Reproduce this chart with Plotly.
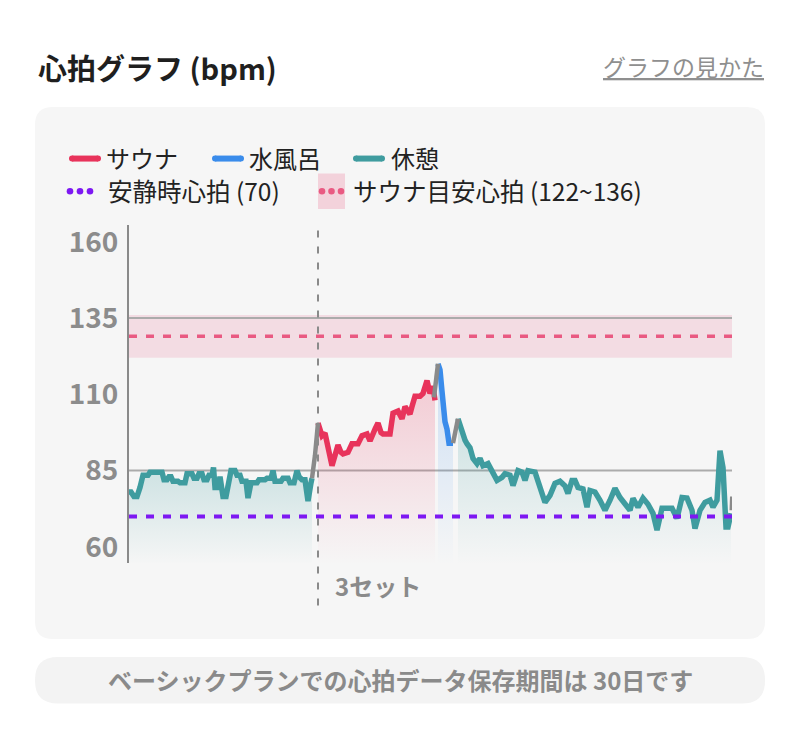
import plotly.graph_objects as go

# ---------------- data (time in minutes, heart rate in bpm) ----------------
rest1_t = [0.0, 0.2, 0.5, 0.8, 1.1, 1.4, 1.9, 2.1, 3.3, 3.5, 3.8, 4.0, 4.2, 4.4, 4.9, 5.1, 5.6, 5.8, 6.3, 6.5,
           6.8, 7.0, 7.3, 7.5, 7.8, 8.0, 8.3, 8.45, 8.6, 8.9, 9.1, 9.4, 9.7, 10.0, 10.2, 10.6, 10.8, 11.1, 11.3,
           11.7, 11.9, 12.2, 12.8, 13.0, 13.6, 13.8, 14.2, 14.4, 14.6, 15.2, 15.4, 15.9, 16.1, 16.5, 16.8, 17.0,
           17.3, 17.6, 17.9, 18.2, 18.3]
rest1_bpm = [78, 78, 76.5, 76.5, 79.5, 83.5, 83.5, 84.5, 84.5, 82, 82, 83, 83, 81.5, 81.5, 81, 81, 84, 84, 82.5,
             82.5, 84, 84, 82, 82, 83.5, 83.5, 86, 79.5, 79.5, 83, 76.5, 76.5, 82, 85, 85, 83.5, 83.5, 81.5,
             81.5, 76, 81, 81, 82, 82, 82.5, 82.5, 85, 81.5, 81.5, 82.5, 82.5, 81, 81, 85, 83, 82, 82, 75, 81, 82.5]

trans1_t = [18.3, 18.6, 18.9]
trans1_bpm = [82.5, 90, 100.6]

sauna_t = [18.9, 19.1, 19.3, 19.6, 19.9, 20.3, 20.6, 20.9, 21.2, 21.4, 21.9, 22.3, 22.9, 23.3, 23.8, 24.1, 24.6,
           24.9, 25.2, 25.4, 26.1, 26.4, 26.9, 27.3, 27.6, 28.1, 28.3, 28.6, 29.1, 29.4, 29.8, 30.1, 30.4, 30.6]
sauna_bpm = [100.6, 99, 96.4, 97.3, 93, 86.6, 90, 93.4, 91, 90.5, 91, 93.8, 93.8, 96.4, 97, 94.7, 98.6,
             100.6, 97.5, 97, 97, 103.8, 104.5, 102, 106, 103.5, 106, 109.4, 109.4, 110.3, 114.5, 110.3, 112.6, 108]

trans2_t = [30.5, 30.7, 30.9]
trans2_bpm = [109, 114, 120]

cold_t = [30.9, 31.1, 31.3, 31.4, 31.6, 31.8, 32.0, 32.4]
cold_bpm = [120, 118, 111, 106, 101, 98.6, 94, 94]

trans3_t = [32.4, 32.6, 32.9]
trans3_bpm = [94, 98, 102]

rest2_t = [32.9, 33.3, 33.6, 33.8, 34.1, 34.4, 34.8, 35.1, 35.4, 35.9, 36.3, 36.8, 37.3, 37.6, 38.1, 38.4, 38.9,
           39.3, 39.6, 39.9, 40.6, 41.1, 41.6, 42.1, 42.6, 43.1, 43.6, 43.9, 44.3, 44.6, 44.9, 45.4, 45.8, 46.1,
           46.6, 47.1, 47.6, 48.1, 48.6, 49.1, 49.6, 50.1, 50.4, 50.9, 51.4, 51.9, 52.4, 52.8, 53.3, 53.8, 54.3,
           54.8, 55.3, 55.8, 56.3, 56.6, 57.1, 57.6, 58.1, 58.4, 58.8, 59.1, 59.4, 59.7, 59.9, 60.2]
rest2_bpm = [102, 97, 95, 93.8, 92.5, 89, 87.3, 89, 86.6, 87.3, 85, 81.8, 82.8, 84, 83.5, 80.1, 85,
             84.5, 81.8, 85, 84.5, 79, 74.6, 76.9, 80.8, 81.5, 80, 77.5, 81.8, 81.8, 79.5, 79, 73, 78.5,
             78, 75.3, 72, 75.3, 79.2, 76.2, 74.3, 72, 75.9, 73, 76, 74, 71, 65.5, 72.7, 72.7, 72.7,
             69.4, 76.2, 76, 72, 66, 72, 74.6, 75.3, 73, 75.3, 91.5, 86, 66.5, 66.5, 71]

tail_t = [60.2, 60.25]
tail_bpm = [72, 76.5]

set_marker_t = 18.9
set_label = "3セット"
resting_hr = 70
target_low, target_high = 122, 136
target_mid = 129
guide_lines = [85, 135]
y_ticks = [60, 85, 110, 135, 160]

# ---------------- styling ----------------
W, H = 800, 756
FONT = "Noto Sans CJK JP"
RED = "#e8335b"
BLUE = "#3a8ceb"
TEAL = "#3f9c9f"
GRAY = "#8a8a8a"
PURPLE = "#7d18f2"
PINK = "#e95a82"


def X(px):
    return px / W


def Y(py):
    return 1 - py / H


def rrect(x0, y0, x1, y1, r):
    return (f"M{X(x0 + r)},{Y(y0)} L{X(x1 - r)},{Y(y0)} Q{X(x1)},{Y(y0)} {X(x1)},{Y(y0 + r)} "
            f"L{X(x1)},{Y(y1 - r)} Q{X(x1)},{Y(y1)} {X(x1 - r)},{Y(y1)} "
            f"L{X(x0 + r)},{Y(y1)} Q{X(x0)},{Y(y1)} {X(x0)},{Y(y1 - r)} "
            f"L{X(x0)},{Y(y0 + r)} Q{X(x0)},{Y(y0)} {X(x0 + r)},{Y(y0)} Z")


fig = go.Figure()


def seg(t, v, color, fill_rgb=None, width=5.5):
    kw = {}
    if fill_rgb:
        kw = dict(fill="tozeroy",
                  fillgradient=dict(type="vertical", start=55, stop=max(v),
                                    colorscale=[[0, f"rgba({fill_rgb},0.0)"], [1, f"rgba({fill_rgb},0.22)"]]))
    fig.add_trace(go.Scatter(x=t, y=v, mode="lines", line=dict(color=color, width=width),
                             hoverinfo="skip", showlegend=False, **kw))


seg(rest1_t, rest1_bpm, TEAL, "63,156,159")
seg(sauna_t, sauna_bpm, RED, "232,51,91")
seg(cold_t, cold_bpm, BLUE, "58,140,235")
seg(rest2_t, rest2_bpm, TEAL, "63,156,159")
seg(trans1_t, trans1_bpm, GRAY, None, 4.5)
seg(trans2_t, trans2_bpm, GRAY, None, 4.5)
seg(trans3_t, trans3_bpm, GRAY, None, 4.5)
seg(tail_t, tail_bpm, GRAY, None, 3)

shapes = []
# card backgrounds
shapes.append(dict(type="path", xref="paper", yref="paper", path=rrect(35, 103, 765, 640, 18),
                   fillcolor="#f6f6f6", line=dict(width=0), layer="below"))
shapes.append(dict(type="path", xref="paper", yref="paper", path=rrect(35, 658, 765, 705, 23),
                   fillcolor="#f3f3f3", line=dict(width=0), layer="below"))
# target band
shapes.append(dict(type="rect", xref="x domain", yref="y", x0=0, x1=1, y0=target_low, y1=target_high,
                   fillcolor="rgba(233,90,130,0.16)", line=dict(width=0), layer="below"))
shapes.append(dict(type="line", xref="x domain", yref="y", x0=0, x1=1, y0=target_mid, y1=target_mid,
                   line=dict(color=PINK, width=3.5, dash="8px,9px"), layer="below"))
for g in guide_lines:
    shapes.append(dict(type="line", xref="x domain", yref="y", x0=0, x1=1, y0=g, y1=g,
                       line=dict(color="#ababab", width=2), layer="below"))
shapes.append(dict(type="line", xref="x domain", yref="y", x0=0, x1=1, y0=resting_hr, y1=resting_hr,
                   line=dict(color=PURPLE, width=4, dash="8px,9px"), layer="above"))
# set marker
shapes.append(dict(type="line", xref="x", yref="paper", x0=set_marker_t, x1=set_marker_t,
                   y0=Y(606), y1=Y(222), line=dict(color=GRAY, width=2, dash="7px,9px"), layer="above"))

# legend icons
def pill(x0, x1, yc, color):
    shapes.append(dict(type="line", xref="paper", yref="paper", x0=X(x0 + 3), x1=X(x1 - 3), y0=Y(yc), y1=Y(yc),
                       line=dict(color=color, width=6)))
    for cx in (x0 + 3, x1 - 3):
        shapes.append(dict(type="circle", xref="paper", yref="paper", x0=X(cx - 3), x1=X(cx + 3),
                           y0=Y(yc + 3), y1=Y(yc - 3), fillcolor=color, line=dict(width=0)))


def dots(xs, yc, color, r=3.3):
    for cx in xs:
        shapes.append(dict(type="circle", xref="paper", yref="paper", x0=X(cx - r), x1=X(cx + r),
                           y0=Y(yc + r), y1=Y(yc - r), fillcolor=color, line=dict(width=0)))


pill(69, 101, 155, RED)
pill(212, 244, 155, BLUE)
pill(353, 385, 155, TEAL)
dots([70, 80, 90], 188, PURPLE)
shapes.append(dict(type="rect", xref="paper", yref="paper", x0=X(318), x1=X(345), y0=Y(206), y1=Y(170),
                   fillcolor="#f3d2db", line=dict(width=0)))
dots([322, 331.5, 341], 188, PINK)

annotations = []


def text(px, py, s, size, color, xanchor="left", weight="normal"):
    annotations.append(dict(xref="paper", yref="paper", x=X(px), y=Y(py), text=s, showarrow=False,
                            xanchor=xanchor, yanchor="middle",
                            font=dict(family=FONT, size=size, color=color, weight=weight)))


text(36, 63, "心拍グラフ (bpm)", 29, "#1f1f1f", weight="bold")
text(766, 62, "<u>グラフの見かた</u>", 23, "#8f8f8f", xanchor="right")
text(104, 154, "サウナ", 24, "#222222")
text(247, 154, "水風呂", 24, "#222222")
text(389, 154, "休憩", 24, "#222222")
text(106, 187, "安静時心拍 (70)", 24.5, "#222222")
text(351, 187, "サウナ目安心拍 (122~136)", 24.5, "#222222")
annotations.append(dict(xref="x", yref="paper", x=set_marker_t, y=Y(586), text=set_label, showarrow=False,
                        xanchor="left", yanchor="middle", xshift=15,
                        font=dict(family=FONT, size=24, color="#8a8a8a", weight="bold")))
text(400, 681, "ベーシックプランでの心拍データ保存期間は 30日です", 24, "#8a8a8a", xanchor="center", weight="bold")

fig.update_layout(
    width=W, height=H,
    margin=dict(l=0, r=0, t=0, b=0),
    paper_bgcolor="white",
    plot_bgcolor="rgba(0,0,0,0)",
    shapes=shapes,
    annotations=annotations,
    showlegend=False,
    xaxis=dict(domain=[129 / W, 732 / W], range=[0, 60.3], showgrid=False, zeroline=False,
               showticklabels=False, showline=False, fixedrange=True),
    yaxis=dict(domain=[1 - 563 / H, 1 - 222 / H], range=[54.8, 165.5], tickvals=y_ticks,
               showgrid=False, zeroline=False, showline=True, linecolor=GRAY, linewidth=2,
               ticks="", ticklabelstandoff=3,
               tickfont=dict(family=FONT, size=28, color="#8c8c8c", weight="bold"), fixedrange=True),
)

fig.write_html("out.html")
